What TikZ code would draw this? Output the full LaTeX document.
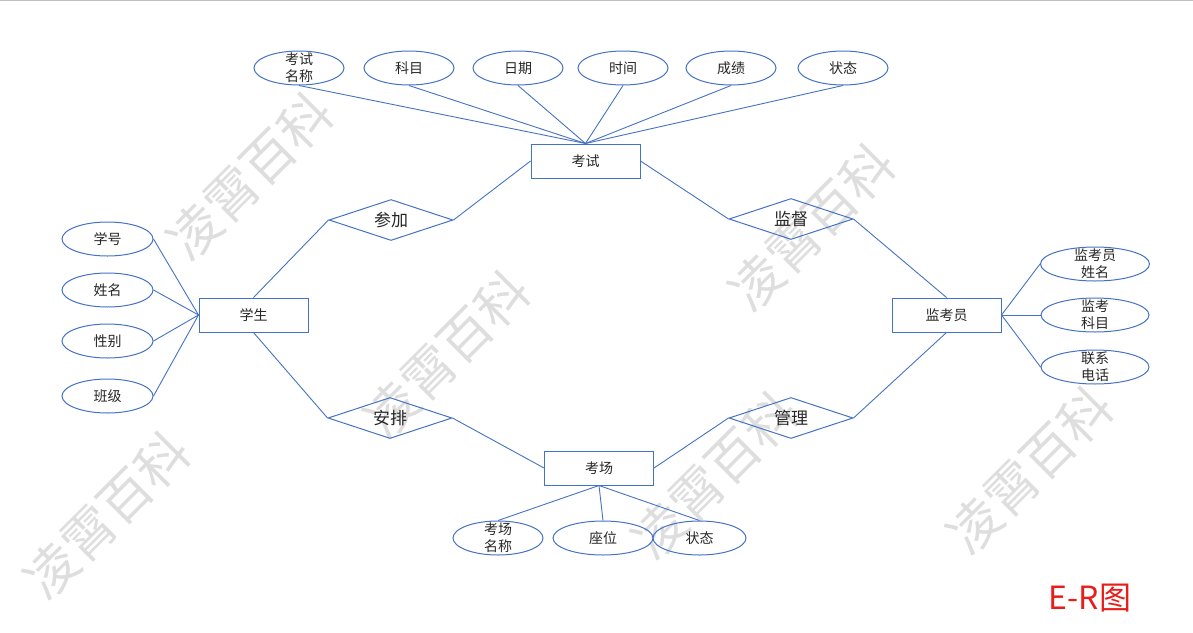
\documentclass[tikz,border=0pt]{standalone}
\usepackage{fontspec}
\setmainfont{Noto Sans CJK SC}
\usepackage{tikz}
\usetikzlibrary{arrows}
\usetikzlibrary{positioning}
\usetikzlibrary{shapes.geometric}
\definecolor{erblue}{RGB}{68,114,196}
\definecolor{erred}{RGB}{232,30,26}
\tikzstyle{every node}+=[inner sep=0pt]
\tikzstyle{entity} = [rectangle, draw=erblue, line width=1pt, text=black!85, font=\fontsize{14}{17}\selectfont, text centered, minimum height=34pt, minimum width=109pt]
\tikzstyle{relation} = [diamond, aspect=3, draw=erblue, line width=1pt, text=black!85, font=\fontsize{17}{20}\selectfont, minimum width=124pt, minimum height=41pt]
\tikzstyle{attr} = [ellipse, draw=erblue, line width=1pt, text=black!85, font=\fontsize{14}{17}\selectfont, inner ysep=-9pt, minimum width=90pt, minimum height=34pt]
\tikzstyle{line} = [draw=erblue, line width=0.9pt]
\tikzstyle{wmark} = [text=black!13, font=\fontsize{52}{52}\selectfont, rotate=45]

\begin{document}
\begin{tikzpicture}[x=1pt, y=-1pt, every text node part/.style={align=center}]
            \useasboundingbox (0,0) rectangle (1193,632);
            \draw [black!25, line width=1.2pt] (0,0.6) -- (1193,0.6);
            % Watermark
            \node [wmark] (wm1) at (250,176) {凌霄百科};
            \node [wmark] (wm2) at (447,354) {凌霄百科};
            \node [wmark] (wm3) at (812,227) {凌霄百科};
            \node [wmark] (wm4) at (107,515) {凌霄百科};
            \node [wmark] (wm5) at (715,475) {凌霄百科};
            \node [wmark] (wm6) at (1030,470) {凌霄百科};
            % Place nodes
            \node [entity] (kaoshi) at (585.5,161) {考试};
            \node [entity] (xuesheng) at (253.5,315) {学生};
            \node [entity] (jiankaoyuan) at (946.5,315) {监考员};
            \node [entity] (kaochang) at (599,468) {考场};
            \node [relation] (canjia) at (391,220) {参加};
            \node [relation] (jiandu) at (791,219) {监督};
            \node [relation] (anpai) at (390,418) {安排};
            \node [relation] (guanli) at (791,418) {管理};
            \node [attr] (ksmc) at (299,68) {考试\\名称};
            \node [attr, right of=ksmc, node distance=110pt] (kemu) {科目};
            \node [attr, right of=kemu, node distance=109pt] (riqi) {日期};
            \node [attr, right of=riqi, node distance=105pt] (shijian) {时间};
            \node [attr, right of=shijian, node distance=108pt] (chengji) {成绩};
            \node [attr, right of=chengji, node distance=112pt] (kszt) {状态};
            \node [attr, minimum width=91pt] (xuehao) at (107.5,239) {学号};
            \node [attr, minimum width=91pt, below of=xuehao, node distance=51pt] (xingming) {姓名};
            \node [attr, minimum width=91pt, below of=xingming, node distance=51pt] (xingbie) {性别};
            \node [attr, minimum width=91pt, below of=xingbie, node distance=55pt] (banji) {班级};
            \node [attr, minimum width=109pt] (jkxm) at (1095,264) {监考员\\姓名};
            \node [attr, minimum width=108pt, below of=jkxm, node distance=51pt] (jkkm) {监考\\科目};
            \node [attr, minimum width=108pt, below of=jkkm, node distance=52pt] (lxdh) {联系\\电话};
            \node [attr] (kcmc) at (498,538) {考场\\名称};
            \node [attr, minimum width=100pt, right of=kcmc, node distance=105pt] (zuowei) {座位};
            \node [attr, minimum width=93pt, right of=zuowei, node distance=96.5pt] (kczt) {状态};
            \node [text=erred, font=\fontsize{32}{32}\selectfont] (title) at (1090,598) {E-R图};
            % Draw edges
            \path [line] (ksmc.south) -- (kaoshi.north);
            \path [line] (kemu.south) -- (kaoshi.north);
            \path [line] (riqi.south) -- (kaoshi.north);
            \path [line] (shijian.south) -- (kaoshi.north);
            \path [line] (chengji.south) -- (kaoshi.north);
            \path [line] (kszt.south) -- (kaoshi.north);
            \path [line] (kaoshi.west) -- (canjia.east);
            \path [line] (canjia.west) -- (xuesheng.north);
            \path [line] (kaoshi.east) -- (jiandu.west);
            \path [line] (jiandu.east) -- (jiankaoyuan.north);
            \path [line] (xuesheng.south) -- (anpai.west);
            \path [line] (anpai.east) -- (kaochang.west);
            \path [line] (kaochang.east) -- (guanli.west);
            \path [line] (guanli.east) -- (jiankaoyuan.south);
            \path [line] (xuehao.east) -- (xuesheng.west);
            \path [line] (xingming.east) -- (xuesheng.west);
            \path [line] (xingbie.east) -- (xuesheng.west);
            \path [line] (banji.east) -- (xuesheng.west);
            \path [line] (jiankaoyuan.east) -- (jkxm.west);
            \path [line] (jiankaoyuan.east) -- (jkkm.west);
            \path [line] (jiankaoyuan.east) -- (lxdh.west);
            \path [line] (kaochang.south) -- (kcmc.north);
            \path [line] (kaochang.south) -- (zuowei.north);
            \path [line] (kaochang.south) -- (kczt.north);
\end{tikzpicture}
\end{document}
